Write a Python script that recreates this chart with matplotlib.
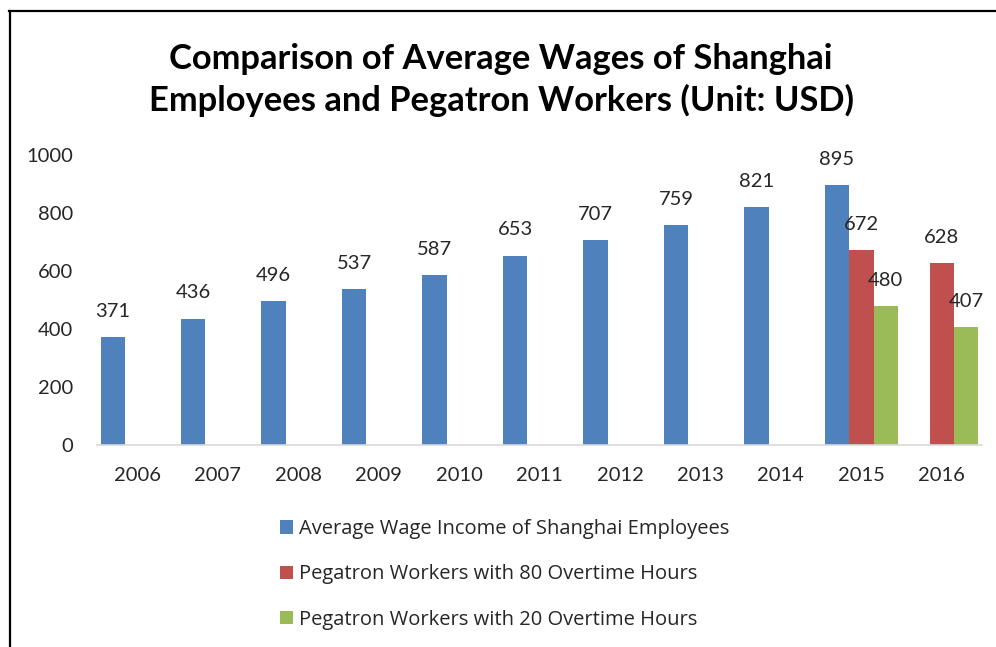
import matplotlib

matplotlib.use("Agg")
import matplotlib.pyplot as plt
import numpy as np
from matplotlib.lines import Line2D
from matplotlib.patches import Patch

# ---------------------------------------------------------------------------
# Data
# ---------------------------------------------------------------------------
years = ["2006", "2007", "2008", "2009", "2010", "2011", "2012", "2013", "2014", "2015", "2016"]
shanghai_avg = [371, 436, 496, 537, 587, 653, 707, 759, 821, 895, None]
pegatron_80h = [None, None, None, None, None, None, None, None, None, 672, 628]
pegatron_20h = [None, None, None, None, None, None, None, None, None, 480, 407]

series_labels = [
    "Average Wage Income of Shanghai Employees",
    "Pegatron Workers with 80 Overtime Hours",
    "Pegatron Workers with 20 Overtime Hours",
]
y_ticks = [0, 200, 400, 600, 800, 1000]

COLORS = ["#4f81bd", "#c0504d", "#9bbb59"]
TEXT = "#262626"

plt.rcParams["font.family"] = ["Lato", "DejaVu Sans"]

W, H = 996, 647
fig = plt.figure(figsize=(W / 100, H / 100), dpi=100)
fig.patch.set_facecolor("white")

ax = fig.add_axes([97 / W, 1 - 445 / H, (982 - 97) / W, (445 - 155) / H])

x = np.arange(len(years))
bar_w = 0.304
all_series = [shanghai_avg, pegatron_80h, pegatron_20h]
for i, (vals, color) in enumerate(zip(all_series, COLORS)):
    offset = (i - 1) * bar_w
    for xi, v in zip(x, vals):
        if v is None:
            continue
        ax.bar(xi + offset, v, width=bar_w, color=color, edgecolor="none")
        ax.annotate(
            f"{v}",
            (xi + offset, v),
            xytext=(0, 14.5),
            textcoords="offset points",
            ha="center",
            va="baseline",
            fontsize=14.5,
            color=TEXT,
        )

ax.set_xlim(-0.5, len(years) - 0.5)
ax.set_ylim(0, 1000)
ax.set_yticks(y_ticks)
ax.set_yticklabels([str(t) for t in y_ticks], fontsize=14.5, color=TEXT)
ax.set_xticks(x)
ax.set_xticklabels(years, fontsize=14.5, color=TEXT)
ax.tick_params(axis="both", length=0)
ax.tick_params(axis="x", pad=16)
ax.tick_params(axis="y", pad=17)
for side in ("top", "right", "left"):
    ax.spines[side].set_visible(False)
ax.spines["bottom"].set_color("#d9d9d9")
ax.spines["bottom"].set_linewidth(1.2)

fig.text(
    501 / W,
    1 - 80 / H,
    "Comparison of Average Wages of Shanghai\nEmployees and Pegatron Workers (Unit: USD)",
    ha="center",
    va="center",
    fontsize=24.8,
    fontweight="bold",
    color="black",
    linespacing=1.3,
)

handles = [Patch(facecolor=c, edgecolor="none") for c in COLORS]
fig.legend(
    handles,
    series_labels,
    loc="upper left",
    bbox_to_anchor=(280 / W, 1 - 519 / H),
    frameon=False,
    prop={"family": ["Open Sans", "DejaVu Sans"], "size": 14.5},
    borderaxespad=0,
    borderpad=0,
    handlelength=0.65,
    handleheight=0.65,
    handletextpad=0.3,
    labelspacing=1.26,
    labelcolor=TEXT,
)

# chart-area border (only left and top edges visible in the crop)
fig.add_artist(Line2D([9.5 / W, 9.5 / W], [0, 1 - 11 / H], color="black", lw=1.6))
fig.add_artist(Line2D([9 / W, 1], [1 - 11 / H, 1 - 11 / H], color="black", lw=1.6))

fig.savefig("out.png", dpi=100)
